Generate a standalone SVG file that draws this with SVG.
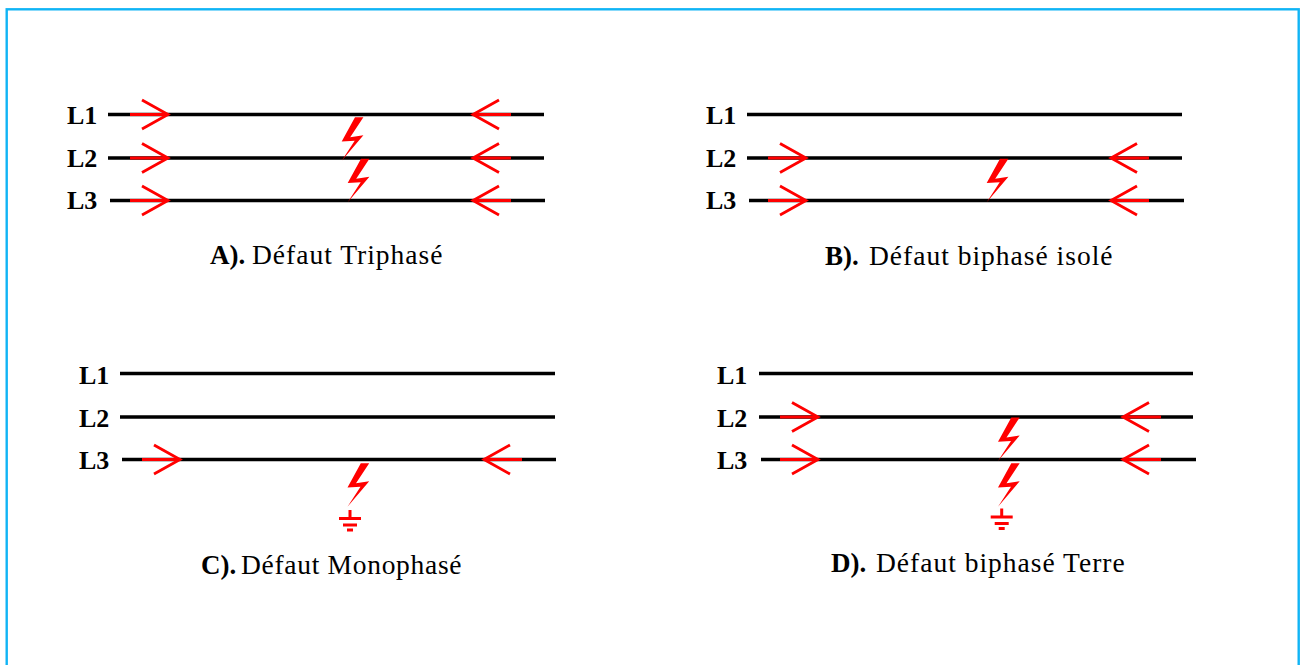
<svg xmlns="http://www.w3.org/2000/svg" width="1303" height="665" viewBox="0 0 1303 665">
<style>
.f{fill:none;stroke:#10b4f5;stroke-width:2.4}
.l{stroke:#000;stroke-width:3.4;fill:none}
.a{stroke:#f00;stroke-width:2.8;fill:none}
.s{stroke:#f00;stroke-width:3.2;fill:none}
.b{fill:#f00}
.g{stroke:#f00;stroke-width:3;fill:none}
text{font-family:"Liberation Serif","Times New Roman",serif;fill:#000}
.n{font-size:26px;font-weight:bold}
.c{font-size:27.5px;letter-spacing:1px}
.c .h{font-weight:bold;font-size:27px;letter-spacing:0}
</style>
<defs>
<g id="ar"><path class="s" d="M0 0H37"/><path class="a" d="M12-14.5L38 0L12 14.5"/></g>
<g id="al"><path class="s" d="M0 0H-37"/><path class="a" d="M-12-14.5L-38 0L-12 14.5"/></g>
<polygon id="bolt" class="b" points="13.3,-43.5 21.7,-43.5 8.5,-23.5 21.7,-25.5 0,0 13,-20 0,-19.3"/>
<g id="gnd"><path class="g" d="M0 0V8.5M-11 8.5H11M-7 15H7M-3 20H3"/></g>
</defs>
<rect class="f" x="6.7" y="9.3" width="1292" height="670"/>
<g id="connectors">
<path class="l" d="M108 114.5H544M108 158H544M110 200.5H545"/>
<path class="l" d="M747 114.5H1182M747 158H1182M749 200.5H1184"/>
<path class="l" d="M120 373.5H555M120 417H555M122 459.5H556"/>
<path class="l" d="M759 373.5H1193M759 417H1193M761 459.5H1196"/>
</g>
<g id="panel-a">
<text class="n" x="67" y="124">L1</text><text class="n" x="67" y="167">L2</text><text class="n" x="67" y="209">L3</text>
<use href="#ar" x="130" y="114.5"/><use href="#ar" x="130" y="158"/><use href="#ar" x="130" y="200.5"/>
<use href="#al" x="511" y="114.5"/><use href="#al" x="511" y="158"/><use href="#al" x="511" y="200.5"/>
<use href="#bolt" x="341.7" y="160.7"/><use href="#bolt" x="347.7" y="202.3"/>
<text class="c" y="264"><tspan class="h" x="210">A).</tspan><tspan x="252">Défaut Triphasé</tspan></text>
</g>
<g id="panel-b">
<text class="n" x="706" y="124">L1</text><text class="n" x="706" y="167">L2</text><text class="n" x="706" y="209">L3</text>
<use href="#ar" x="768" y="158"/><use href="#ar" x="768" y="200.5"/>
<use href="#al" x="1149" y="158"/><use href="#al" x="1149" y="200.5"/>
<use href="#bolt" x="986.7" y="202.3"/>
<text class="c" y="265"><tspan class="h" x="825">B).</tspan><tspan x="869">Défaut biphasé isolé</tspan></text>
</g>
<g id="panel-c">
<text class="n" x="79" y="384">L1</text><text class="n" x="79" y="427">L2</text><text class="n" x="79" y="469">L3</text>
<use href="#ar" x="142" y="459.5"/>
<use href="#al" x="522" y="459.5"/>
<use href="#bolt" x="347.5" y="506.7"/>
<use href="#gnd" x="350" y="510"/>
<text class="c" y="574"><tspan class="h" x="201">C).</tspan><tspan x="241" style="letter-spacing:.7px">Défaut Monophasé</tspan></text>
</g>
<g id="panel-d">
<text class="n" x="717" y="384">L1</text><text class="n" x="717" y="427">L2</text><text class="n" x="717" y="469">L3</text>
<use href="#ar" x="780" y="417"/><use href="#ar" x="780" y="459.5"/>
<use href="#al" x="1161" y="417"/><use href="#al" x="1161" y="459.5"/>
<use href="#bolt" x="998" y="461"/><use href="#bolt" x="998" y="506.7"/>
<use href="#gnd" x="1001.7" y="508.5"/>
<text class="c" y="572"><tspan class="h" x="831">D).</tspan><tspan x="876">Défaut biphasé Terre</tspan></text>
</g>
</svg>
